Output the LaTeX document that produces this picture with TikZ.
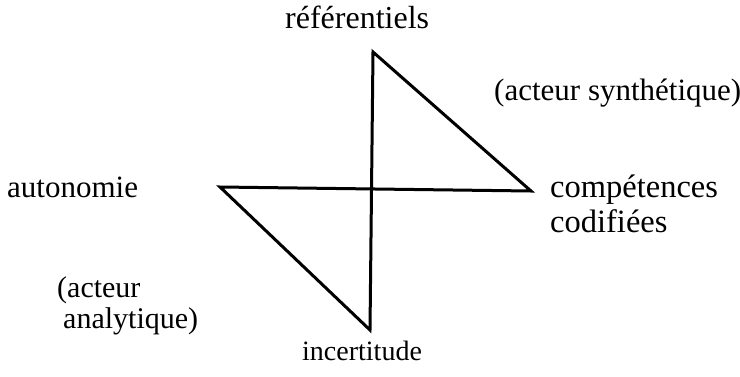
\documentclass[tikz,border=0pt]{standalone}
\usepackage{fontspec}
\setmainfont{Liberation Serif}
\begin{document}
\begin{tikzpicture}[x=1pt,y=-1pt,
  lbl/.style={anchor=base west,inner sep=0pt,font=\fontsize{31}{32}\selectfont},
  edge/.style={line width=3pt,line join=miter}]
\useasboundingbox (0,0) rectangle (740,376);
\coordinate (T) at (373,52);
\coordinate (R) at (531,191);
\coordinate (L) at (220,187);
\coordinate (B) at (370,330);
\draw[edge] (T) -- (R) -- (L) -- (B) -- cycle;
\node[lbl,font=\fontsize{32}{33}\selectfont] (ref) at (285,28) {référentiels};
\node[lbl] (syn) at (494,100) {(acteur synthétique)};
\node[lbl] (aut) at (7,197) {autonomie};
\node[lbl,font=\fontsize{32.5}{33}\selectfont] (comp) at (550,197) {compétences};
\node[lbl,font=\fontsize{32.5}{33}\selectfont] (cod) at (550,232) {codifiées};
\node[lbl,font=\fontsize{30}{31}\selectfont] (ac) at (57,297) {(acteur};
\node[lbl,font=\fontsize{30}{31}\selectfont] (ana) at (63,328) {analytique)};
\node[lbl,font=\fontsize{28}{29}\selectfont] (inc) at (302,360) {incertitude};
\end{tikzpicture}
\end{document}
